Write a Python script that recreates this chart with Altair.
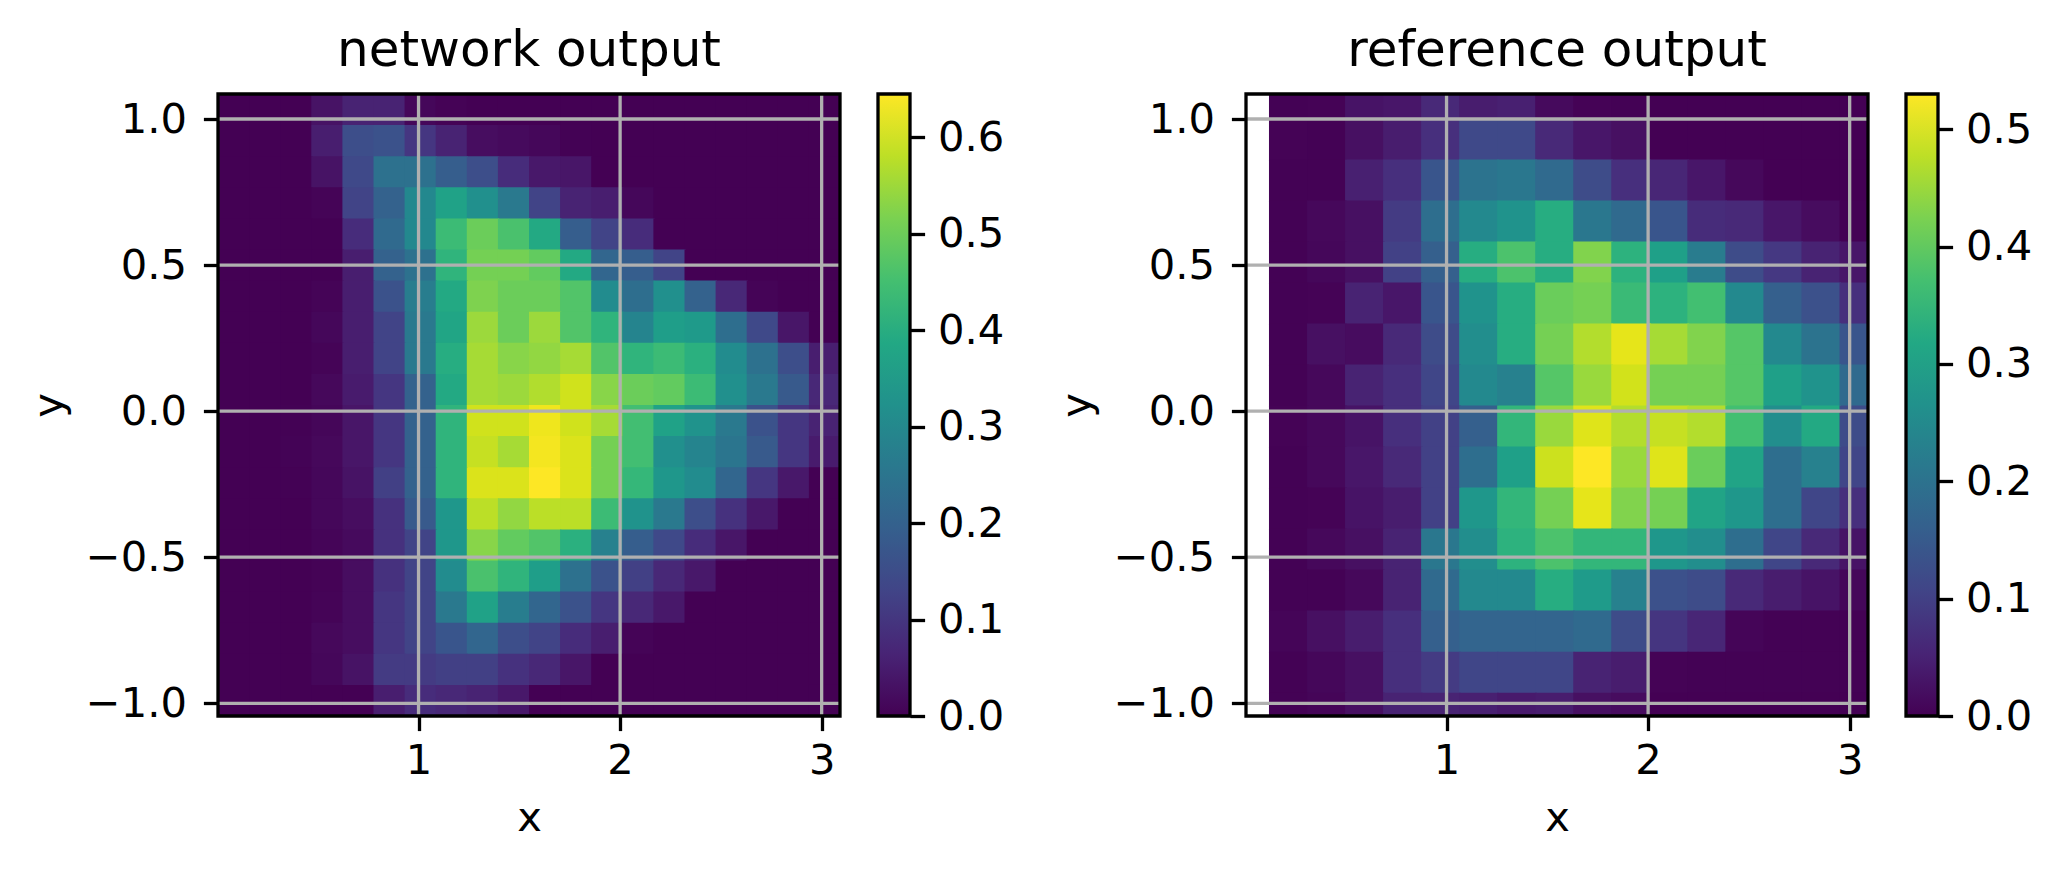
import altair as alt
import pandas as pd

net_values = [
 [0,0,0,.03,.06,.06,.01,.004,0,0,0,0,0,0,0,0,0,0,0,0],
 [0,0,0,.05,.15,.16,.10,.06,.02,.015,.01,.002,0,0,0,0,0,0,0,0],
 [0,0,0,.03,.14,.24,.24,.19,.15,.08,.04,.035,0,0,0,0,0,0,0,0],
 [0,0,0,.005,.13,.20,.30,.37,.32,.26,.13,.06,.05,.01,0,0,0,0,0,0],
 [0,0,0,0,.08,.22,.30,.44,.50,.46,.39,.19,.13,.08,0,0,0,0,0,0],
 [0,0,0,0,.05,.20,.24,.42,.51,.51,.49,.39,.21,.19,.13,0,0,0,0,0],
 [0,0,0,.005,.05,.16,.27,.39,.52,.50,.50,.47,.31,.23,.32,.20,.07,.005,0,0],
 [0,0,0,.01,.05,.13,.26,.38,.55,.50,.55,.47,.42,.29,.36,.35,.23,.14,.035,0],
 [0,0,0,.005,.05,.13,.26,.40,.56,.53,.54,.56,.47,.42,.44,.41,.31,.24,.15,.05],
 [0,0,0,.012,.045,.10,.20,.39,.56,.55,.57,.60,.53,.50,.49,.44,.32,.26,.18,.07],
 [0,0,.002,.008,.035,.10,.20,.42,.60,.60,.63,.60,.56,.45,.37,.33,.26,.16,.10,.06],
 [0,0,.003,.012,.035,.10,.20,.42,.59,.56,.635,.61,.51,.45,.32,.29,.25,.18,.10,.045],
 [0,0,.002,.01,.03,.12,.20,.42,.61,.61,.645,.61,.51,.43,.34,.31,.21,.10,.04,0],
 [0,0,0,.01,.02,.09,.18,.34,.58,.54,.58,.58,.44,.33,.26,.15,.09,.04,0,0],
 [0,0,0,.006,.015,.09,.13,.34,.53,.49,.47,.41,.28,.19,.14,.08,.035,0,0,0],
 [0,0,0,.004,.02,.09,.13,.31,.46,.42,.36,.24,.16,.12,.07,.04,0,0,0,0],
 [0,0,0,.005,.02,.10,.13,.26,.37,.27,.21,.16,.10,.07,.04,0,0,0,0,0],
 [0,0,0,.012,.02,.10,.13,.17,.21,.15,.13,.08,.05,.005,0,0,0,0,0,0],
 [0,0,0,.01,.03,.11,.11,.12,.12,.09,.07,.035,0,0,0,0,0,0,0,0],
 [0,0,0,0,0,.05,.08,.07,.06,.04,0,0,0,0,0,0,0,0,0,0],
]
ref_values = [
 [.002,.003,.025,.03,.06,.04,.045,.012,.003,.002,0,0,0,0,0,0],
 [.003,.002,.02,.04,.07,.115,.115,.06,.03,.02,0,0,0,0,0,0],
 [.002,.002,.045,.07,.14,.20,.21,.18,.12,.07,.055,.03,.01,0,0,0],
 [.002,.01,.02,.09,.19,.25,.27,.33,.21,.18,.14,.065,.06,.03,.015,.002],
 [.002,.008,.02,.10,.16,.33,.38,.33,.43,.34,.30,.22,.12,.085,.05,.03],
 [.002,.003,.05,.03,.14,.27,.33,.41,.42,.36,.34,.37,.25,.16,.13,.07],
 [.002,.02,.015,.06,.12,.26,.33,.42,.47,.51,.46,.43,.39,.25,.20,.14],
 [.002,.01,.05,.07,.11,.25,.23,.39,.45,.495,.42,.42,.39,.30,.27,.18],
 [.003,.01,.025,.07,.10,.16,.35,.45,.505,.47,.485,.47,.37,.26,.32,.12],
 [.002,.01,.03,.06,.10,.19,.30,.49,.53,.45,.505,.41,.31,.19,.23,.11],
 [.002,.003,.025,.04,.10,.28,.35,.42,.51,.43,.42,.31,.28,.19,.11,.07],
 [.002,.01,.02,.05,.21,.26,.34,.38,.35,.35,.28,.26,.19,.11,.06,.025],
 [.002,.002,.01,.05,.18,.25,.25,.33,.29,.23,.13,.12,.06,.04,.025,.008],
 [.005,.02,.04,.07,.16,.17,.17,.17,.18,.12,.08,.055,.005,.002,.002,.002],
 [.002,.008,.02,.07,.09,.11,.11,.11,.05,.04,.003,.002,.002,.002,.002,.002],
 [.002,.005,.02,.05,.05,.045,.035,.04,.02,.015,0,0,0,0,0,0],
]
xlim = [0.005, 3.091]
ylim = [-1.0435, 1.0856]
x_ticks = [1, 2, 3]
y_ticks = [-1.0, -0.5, 0.0, 0.5, 1.0]
net_max = 0.645
ref_max = 0.53
net_ticks = [0.0, 0.1, 0.2, 0.3, 0.4, 0.5, 0.6]
ref_ticks = [0.0, 0.1, 0.2, 0.3, 0.4, 0.5]
viridis_stops = ["#440154","#482475","#414487","#355f8d","#2a788e","#21918c",
                 "#22a884","#44bf70","#7ad151","#bddf26","#fde725"]

SIDE = 622
LW = 3.3
TICK = 14.6
FONT = 41.67


def cells(values, x0, dx, y0, dy):
    # each cell overlaps its right and lower neighbours by a hair, so no seams show;
    # edges are held inside the axis limits
    rows = []
    for r, row in enumerate(values):
        for c, v in enumerate(row):
            rows.append({"x": x0 + c * dx,
                         "x2": min(x0 + (c + 1.04) * dx, xlim[1]),
                         "y": min(y0 - r * dy, ylim[1]),
                         "y2": max(y0 - (r + 1.04) * dy, ylim[0]),
                         "v": v})
    return pd.DataFrame(rows)


def panel(values, x0, dx, y0, dy, vmax, title):
    xs = alt.Scale(domain=xlim, nice=False, zero=False)
    ys = alt.Scale(domain=ylim, nice=False, zero=False)
    cs = alt.Scale(scheme="viridis", domain=[0, vmax])
    xa = alt.Axis(values=x_ticks, format="d", title="x", titlePadding=15, labelPadding=10)
    ya = alt.Axis(values=y_ticks, format=".1f", title="y", titlePadding=15, labelPadding=17)
    heat = alt.Chart(cells(values, x0, dx, y0, dy)).mark_rect().encode(
        x=alt.X("x:Q", scale=xs, axis=xa),
        x2="x2:Q",
        y=alt.Y("y:Q", scale=ys, axis=ya),
        y2="y2:Q",
        color=alt.Color("v:Q", scale=cs, legend=None),
    )
    vgrid = alt.Chart(pd.DataFrame({"x": x_ticks})).mark_rule(color="#b0b0b0", strokeWidth=LW).encode(
        x=alt.X("x:Q", scale=xs, axis=xa))
    hgrid = alt.Chart(pd.DataFrame({"y": y_ticks})).mark_rule(color="#b0b0b0", strokeWidth=LW).encode(
        y=alt.Y("y:Q", scale=ys, axis=ya))
    frame = alt.Chart(pd.DataFrame({"x": [xlim[0]], "x2": [xlim[1]], "y": [ylim[0]], "y2": [ylim[1]]})).mark_rect(
        fill="transparent", stroke="black", strokeWidth=LW).encode(
        x=alt.X("x:Q", scale=xs, axis=xa), x2="x2:Q",
        y=alt.Y("y:Q", scale=ys, axis=ya), y2="y2:Q")
    return alt.layer(heat, vgrid, hgrid, frame).properties(
        width=SIDE, height=SIDE,
        title=alt.TitleParams(title, fontSize=50, fontWeight="normal", font="DejaVu Sans", offset=16),
    )


def colorbar(vmax, ticks):
    grad = alt.Gradient(gradient="linear", x1=0, x2=0, y1=1, y2=0,
                        stops=[alt.GradientStop(color=c, offset=i / 10) for i, c in enumerate(viridis_stops)])
    df = pd.DataFrame({"lo": [0.0], "hi": [vmax]})
    return alt.Chart(df).mark_rect(fill=grad, stroke="black", strokeWidth=LW).encode(
        x=alt.value(0), x2=alt.value(32),
        y=alt.Y("lo:Q", scale=alt.Scale(domain=[0, vmax], nice=False, zero=False),
                axis=alt.Axis(orient="right", values=ticks, format=".1f", title=None, labelPadding=13)),
        y2="hi:Q",
    ).properties(width=32, height=SIDE)


left = alt.hconcat(panel(net_values, xlim[0], 0.1543, ylim[1], 0.10646, net_max, "network output"),
                   colorbar(net_max, net_ticks), spacing=34).resolve_scale(color="independent")
right = alt.hconcat(panel(ref_values, 0.119, 0.1887, 1.1424, 0.1404, ref_max, "reference output"),
                    colorbar(ref_max, ref_ticks), spacing=34).resolve_scale(color="independent")

chart = alt.hconcat(left, right, spacing=52).resolve_scale(color="independent").properties(
    padding={"left": 20, "top": 18, "right": 10, "bottom": 12},
).configure(font="DejaVu Sans").configure_view(stroke=None).configure_axis(
    grid=False, domain=False, tickColor="black", tickWidth=LW, tickSize=TICK,
    labelFontSize=FONT, titleFontSize=FONT, labelColor="black", titleColor="black",
    titleFontWeight="normal", labelFont="DejaVu Sans", titleFont="DejaVu Sans",
    labelOverlap=False, labelFlush=False, labelBound=False,
)

chart.save("out.html", embed_options={"renderer": "svg", "actions": False})
